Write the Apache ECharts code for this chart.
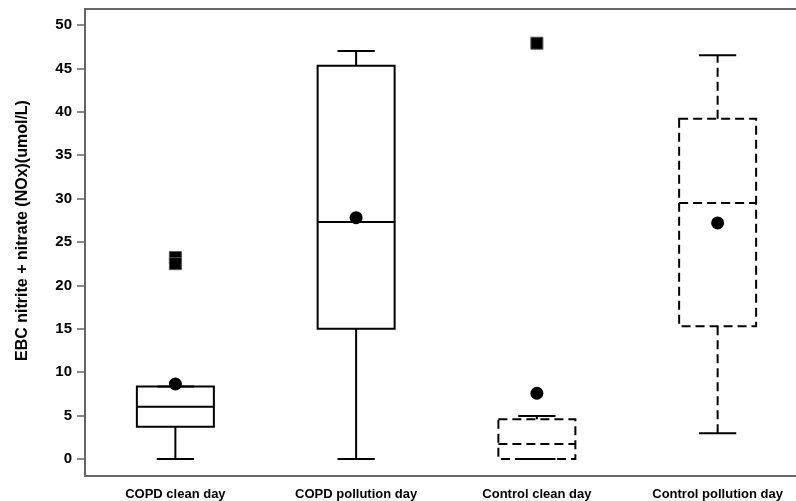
<!DOCTYPE html>
<html>
<head>
<meta charset="utf-8">
<script src="https://cdn.jsdelivr.net/npm/echarts@6/dist/echarts.min.js"></script>
<style>
	html, body { margin: 0; padding: 0; background: #fff; }
	#main { width: 796px; height: 501px; }
</style>
</head>
<body>
<div id="main"></div>
<script>
// 数据
let categories = ['COPD clean day', 'COPD pollution day', 'Control clean day', 'Control pollution day'];
let whisker_low = [0, 0, 0, 2.96];
let q1 = [3.72, 15.0, 0, 15.3];
let median = [6.03, 27.3, 1.73, 29.5];
let q3 = [8.35, 45.3, 4.57, 39.2];
let whisker_high = [8.35, 47.0, 4.95, 46.5];
let means = [8.64, 27.8, 7.57, 27.2];
let outliers = [[0, 23.2], [0, 22.5], [2, 47.9]];
let y_ticks = [0, 5, 10, 15, 20, 25, 30, 35, 40, 45, 50];

let box_data = categories.map((c, i) => [i, whisker_low[i], q1[i], median[i], q3[i], whisker_high[i]]);
let mean_data = means.map((v, i) => [i, v]);

let font = "'Liberation Sans', Arial, sans-serif";

// 画箱线 自己画 须线端短一些 对照组用虚线
function render_box(params, api) {
	let i = api.value(0);
	let band = api.size([1, 0])[0];
	let half_box = band * 0.213;
	let half_cap = band * 0.103;
	let x = api.coord([i, 0])[0];
	let y_low = api.coord([i, api.value(1)])[1];
	let y_q1 = api.coord([i, api.value(2)])[1];
	let y_med = api.coord([i, api.value(3)])[1];
	let y_q3 = api.coord([i, api.value(4)])[1];
	let y_high = api.coord([i, api.value(5)])[1];
	let dashed = categories[i].indexOf('Control') === 0;
	let style = { stroke: '#000', lineWidth: 2, fill: null, lineDash: dashed ? [9, 5] : null };
	let solid = { stroke: '#000', lineWidth: 2, fill: null };
	let line = (x1, y1, x2, y2, s) => ({ type: 'line', shape: { x1: x1, y1: y1, x2: x2, y2: y2 }, style: s });
	return {
		type: 'group',
		children: [
			line(x, y_q3, x, y_high, style),
			line(x, y_q1, x, y_low, style),
			line(x - half_cap, y_high, x + half_cap, y_high, solid),
			line(x - half_cap, y_low, x + half_cap, y_low, solid),
			{ type: 'rect', shape: { x: x - half_box, y: y_q3, width: half_box * 2, height: y_q1 - y_q3 }, style: style },
			line(x - half_box, y_med, x + half_box, y_med, style),
		],
	};
}

let chart = echarts.init(document.getElementById('main'));
let option = {
	animation: false,
	grid: {
		left: 85,
		width: 723,
		top: 9,
		height: 467,
		outerBoundsMode: 'none',
		containLabel: false,
		show: true,
		borderColor: '#666',
		borderWidth: 2,
	},
	xAxis: {
		type: 'category',
		data: categories,
		axisLine: { onZero: false, lineStyle: { color: '#666', width: 2 } },
		axisTick: { alignWithLabel: true, length: 6, lineStyle: { color: '#666', width: 1.5 } },
		axisLabel: { color: '#000', fontFamily: font, fontWeight: 'bold', fontSize: 13, margin: 12 },
		splitLine: { show: false },
	},
	yAxis: {
		type: 'value',
		min: -1.96,
		max: 51.84,
		name: 'EBC nitrite + nitrate (NOx)(umol/L)',
		nameLocation: 'middle',
		nameGap: 54,
		nameTextStyle: { color: '#000', fontFamily: font, fontWeight: 'bold', fontSize: 16, padding: [0, 0, 0, 24] },
		axisLine: { show: true, lineStyle: { color: '#666', width: 2 } },
		axisTick: { show: true, length: 8, customValues: y_ticks, lineStyle: { color: '#666', width: 1.5 } },
		axisLabel: { color: '#000', fontFamily: font, fontWeight: 'bold', fontSize: 15, margin: 13, customValues: y_ticks },
		splitLine: { show: false },
	},
	series: [
		{
			type: 'custom',
			renderItem: render_box,
			data: box_data,
			encode: { x: 0, y: [1, 2, 3, 4, 5] },
			z: 2,
		},
		{
			type: 'scatter',
			data: mean_data,
			symbol: 'circle',
			symbolSize: 13,
			itemStyle: { color: '#000', opacity: 1 },
			z: 3,
		},
		{
			type: 'scatter',
			data: outliers,
			symbol: 'rect',
			symbolSize: 12,
			itemStyle: { color: '#000', opacity: 1, borderColor: '#555', borderWidth: 1 },
			z: 3,
		},
	],
};
chart.setOption(option);
</script>
</body>
</html>
